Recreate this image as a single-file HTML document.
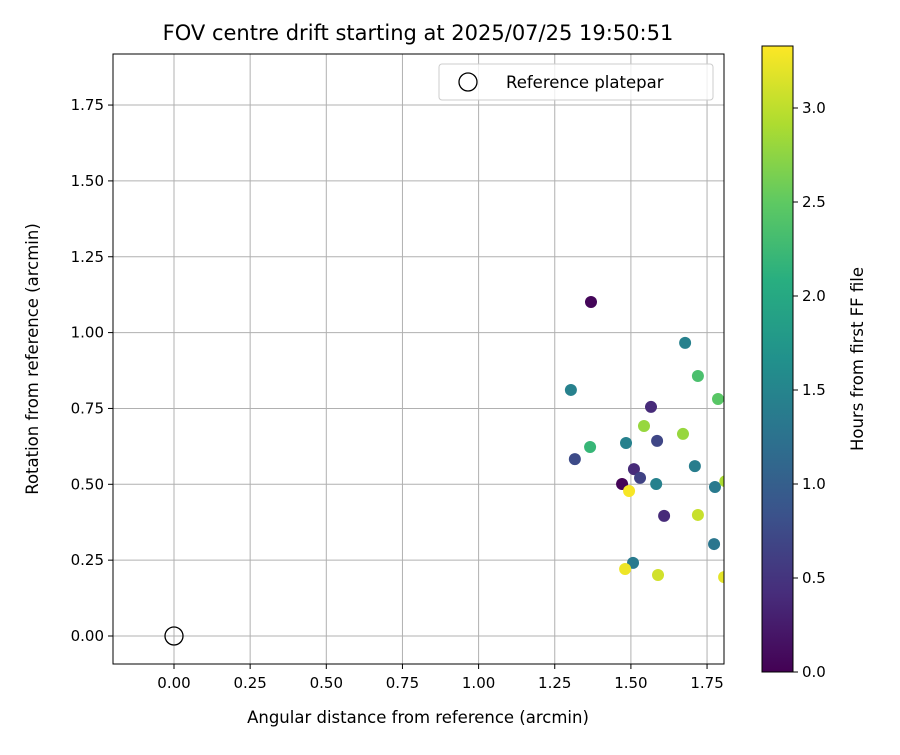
<!DOCTYPE html>
<html><head><meta charset="utf-8"><style>
body{margin:0;background:#fff;font-family:"Liberation Sans","DejaVu Sans",sans-serif}
svg text{font-family:"DejaVu Sans","Liberation Sans",sans-serif;fill:#000}
</style></head><body>
<svg id="chart" width="900" height="750" viewBox="0 0 900 750">
<defs>
<clipPath id="plotclip"><rect x="113" y="54" width="611" height="610"/></clipPath>
<linearGradient id="vir" x1="0" y1="1" x2="0" y2="0">
<stop offset="0" stop-color="#440154"/><stop offset="0.125" stop-color="#472d7b"/><stop offset="0.25" stop-color="#3b528b"/><stop offset="0.375" stop-color="#2c728e"/><stop offset="0.5" stop-color="#21918c"/><stop offset="0.625" stop-color="#28ae80"/><stop offset="0.75" stop-color="#5ec962"/><stop offset="0.875" stop-color="#addc30"/><stop offset="1" stop-color="#fde725"/>
</linearGradient>
</defs>
<text x="418" y="40" font-size="21" text-anchor="middle">FOV centre drift starting at 2025/07/25 19:50:51</text>
<g id="grid"></g>
<g id="points" clip-path="url(#plotclip)"></g>
<rect x="113" y="54" width="611" height="610" fill="none" stroke="#000" stroke-width="1"/>
<g id="ticks"></g>
<text x="418" y="723" font-size="16.5" text-anchor="middle">Angular distance from reference (arcmin)</text>
<text x="0" y="0" font-size="16.5" text-anchor="middle" transform="translate(38,359) rotate(-90)">Rotation from reference (arcmin)</text>
<g>
<rect x="439" y="64" width="274" height="36" rx="3" fill="#fff" fill-opacity="0.8" stroke="#ccc"/>
<circle cx="468" cy="82" r="9" fill="none" stroke="#000" stroke-width="1.3"/>
<text x="506" y="88" font-size="16.5">Reference platepar</text>
</g>
<rect x="762" y="46" width="31" height="626" fill="url(#vir)" stroke="#000" stroke-width="1"/>
<g id="cticks"></g>
<text x="0" y="0" font-size="16.5" text-anchor="middle" transform="translate(863,359) rotate(-90)">Hours from first FF file</text>
</svg>
<script>
const xs=[1.369,1.678,1.303,1.720,1.786,1.566,1.543,1.671,1.586,1.484,1.366,1.316,1.510,1.710,1.530,1.471,1.583,1.776,1.494,1.609,1.720,1.773,1.507,1.481,1.589,1.806,1.810];
const ys=[1.101,0.966,0.811,0.857,0.781,0.755,0.692,0.666,0.643,0.636,0.623,0.583,0.550,0.560,0.521,0.501,0.501,0.491,0.478,0.396,0.399,0.303,0.241,0.221,0.201,0.194,0.510];
const hours=[0.05,1.45,1.45,2.35,2.45,0.4,2.8,2.8,0.7,1.45,2.2,0.75,0.4,1.4,0.65,0.03,1.45,1.35,3.3,0.4,3.05,1.3,1.35,3.25,3.1,3.2,2.9];
const xTicks=[0,0.25,0.5,0.75,1.0,1.25,1.5,1.75];
const yTicks=[0,0.25,0.5,0.75,1.0,1.25,1.5,1.75];
const cTicks=[0,0.5,1.0,1.5,2.0,2.5,3.0];
const X=v=>174+v*304.6, Y=v=>636-v*303.4, C=v=>672-v*188;
const vstops=["#440154","#472d7b","#3b528b","#2c728e","#21918c","#28ae80","#5ec962","#addc30","#fde725"];
const hmax=3.33;
function vir(t){t=Math.max(0,Math.min(1,t));const p=t*8,i=Math.min(7,Math.floor(p)),f=p-i;
const a=vstops[i],b=vstops[i+1];const h=(s,k)=>parseInt(s.substr(1+2*k,2),16);
return "rgb("+[0,1,2].map(k=>Math.round(h(a,k)+(h(b,k)-h(a,k))*f)).join(",")+")";}
const NS="http://www.w3.org/2000/svg";
function mk(t,a,p){const e=document.createElementNS(NS,t);for(const k in a)e.setAttribute(k,a[k]);p.appendChild(e);return e;}
const g=document.getElementById('grid'),tk=document.getElementById('ticks'),pts=document.getElementById('points'),ct=document.getElementById('cticks');
xTicks.forEach(v=>{const x=X(v);
const l=mk('line',{x1:x,x2:x,y1:54,y2:664,stroke:'#b0b0b0','stroke-width':1},g);


mk('line',{x1:x,x2:x,y1:664,y2:669,stroke:'#000'},tk);
const t=mk('text',{x:x,y:688,'font-size':15,'text-anchor':'middle'},tk);t.textContent=v.toFixed(2);

});
yTicks.forEach(v=>{const y=Y(v);
const l=mk('line',{x1:113,x2:724,y1:y,y2:y,stroke:'#b0b0b0','stroke-width':1},g);


mk('line',{x1:108,x2:113,y1:y,y2:y,stroke:'#000'},tk);
const t=mk('text',{x:104,y:y+5,'font-size':15,'text-anchor':'end'},tk);t.textContent=v.toFixed(2);

});
xs.forEach((v,i)=>{const c=mk('circle',{cx:X(v),cy:Y(ys[i]),r:6,fill:vir(hours[i]/hmax)},pts);

});
const ref=mk('circle',{cx:X(0),cy:Y(0),r:9,fill:'none',stroke:'#000','stroke-width':1.3},pts);


cTicks.forEach(v=>{const y=C(v);
mk('line',{x1:793,x2:798,y1:y,y2:y,stroke:'#000'},ct);
const t=mk('text',{x:802,y:y+5,'font-size':15},ct);t.textContent=v.toFixed(1);

});
</script>
</body></html>
